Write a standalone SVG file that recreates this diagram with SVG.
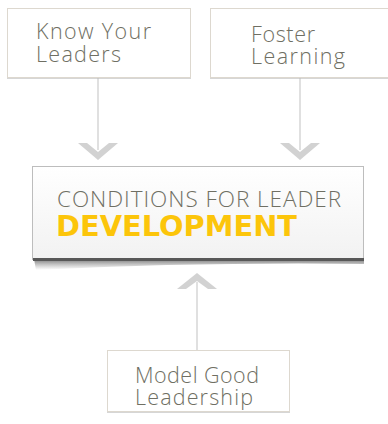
<svg xmlns="http://www.w3.org/2000/svg" width="388" height="424" viewBox="0 0 388 424">
<defs>
<style>
.box{fill:#fff;stroke:#ddd8cf;stroke-width:1}
.lbl{font-family:"Open Sans","Noto Sans",sans-serif;font-size:21.5px;font-weight:300;fill:#6f6f63}
.line{stroke:#d6d6d6;stroke-width:1.5;fill:none}
.chev{fill:#d2d2d2}
.main1{font-family:"Open Sans","Noto Sans",sans-serif;font-size:22.5px;font-weight:300;fill:#6f6f63}
.main2{font-family:"DejaVu Sans","Open Sans",sans-serif;font-size:29px;font-weight:bold;fill:#fcc50a}
</style>
<linearGradient id="mg" x1="0" y1="0" x2="0" y2="1">
<stop offset="0" stop-color="#ffffff"/>
<stop offset="1" stop-color="#f2f2f2"/>
</linearGradient>
<linearGradient id="sh" x1="0" y1="0" x2="0" y2="1">
<stop offset="0" stop-color="#555" stop-opacity="0.8"/>
<stop offset="1" stop-color="#888" stop-opacity="0"/>
</linearGradient>
<filter id="ds" x="-5%" y="-5%" width="110%" height="120%">
<feDropShadow dx="0" dy="1" stdDeviation="0.6" flood-color="#bbb" flood-opacity="0.6"/>
</filter>
</defs>
<g id="connectors">
<line class="line" x1="98" y1="77" x2="98" y2="150"/>
<polygon class="chev" points="78,143 87,143 98,152 109,143 118,143 98,160"/>
<line class="line" x1="300" y1="77" x2="300" y2="150"/>
<polygon class="chev" points="280,143 289,143 300,152 311,143 320,143 300,160"/>
<line class="line" x1="197" y1="282" x2="197" y2="350"/>
<polygon class="chev" points="177,289 186,289 197,281 208,289 217,289 197,273"/>
</g>
<g id="know-your-leaders">
<rect class="box" x="7.5" y="8.5" width="183" height="69" filter="url(#ds)"/>
<text class="lbl" x="36" y="39" textLength="115" lengthAdjust="spacing">Know Your</text>
<text class="lbl" x="36" y="62" textLength="85" lengthAdjust="spacing">Leaders</text>
</g>
<g id="foster-learning">
<rect class="box" x="210.5" y="8.5" width="180" height="69" filter="url(#ds)"/>
<text class="lbl" x="251" y="42" textLength="64" lengthAdjust="spacing">Foster</text>
<text class="lbl" x="251" y="64" textLength="94" lengthAdjust="spacing">Learning</text>
</g>
<g id="conditions">
<path d="M34,259 L364,259 L364,264 Q200,262 36,270 Z" fill="url(#sh)"/>
<rect x="32.5" y="166.5" width="331" height="93" fill="url(#mg)" stroke="#bdbdbd" stroke-width="1"/>
<rect x="33" y="258" width="331" height="3" fill="#585858"/>
<text class="main1" x="57" y="207" textLength="284" lengthAdjust="spacing">CONDITIONS FOR LEADER</text>
<text class="main2" x="56" y="236" textLength="241" lengthAdjust="spacingAndGlyphs">DEVELOPMENT</text>
</g>
<g id="model-good-leadership">
<rect class="box" x="107.5" y="350.5" width="182" height="61" filter="url(#ds)"/>
<text class="lbl" x="135" y="383" textLength="124" lengthAdjust="spacing">Model Good</text>
<text class="lbl" x="135" y="405" textLength="118" lengthAdjust="spacing">Leadership</text>
</g>
</svg>
